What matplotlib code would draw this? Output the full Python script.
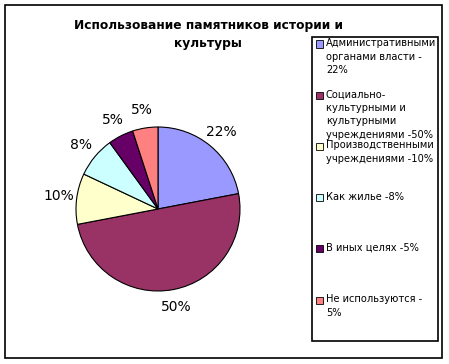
import matplotlib
matplotlib.use("Agg")
import matplotlib.pyplot as plt
from matplotlib.patches import Rectangle
import numpy as np

values = [22, 50, 10, 8, 5, 5]
pct_labels = ["22%", "50%", "10%", "8%", "5%", "5%"]
colors = ["#9999FF", "#993366", "#FFFFCC", "#CCFFFF", "#660066", "#FF8080"]
legend_labels = [
    "Административными\nорганами власти -\n22%",
    "Социально-\nкультурными и\nкультурными\nучреждениями -50%",
    "Производственными\nучреждениями -10%",
    "Как жилье -8%",
    "В иных целях -5%",
    "Не используются -\n5%",
]
title = "Использование памятников истории и\nкультуры"

W, H = 449, 364
fig = plt.figure(figsize=(W / 100, H / 100), dpi=100)

# outer frame
fig.add_artist(Rectangle((5 / W, 1 - 358 / H), 437 / W, 353 / H,
                         transform=fig.transFigure, fill=False, lw=1.2, ec="black"))

fig.text(208 / W, 1 - 19 / H, title, ha="center", va="top", fontsize=8.8,
         fontweight="bold", linespacing=1.45)

# pie
cx, cy, r = 158, 209, 82
ax = fig.add_axes([(cx - r) / W, (H - cy - r) / H, 2 * r / W, 2 * r / H])
wedges, _ = ax.pie(values, colors=colors, startangle=90, counterclock=False,
                   wedgeprops=dict(edgecolor="black", linewidth=0.8))
ax.set_xlim(-1, 1)
ax.set_ylim(-1, 1)
for w, lab in zip(wedges, pct_labels):
    ang = np.deg2rad((w.theta1 + w.theta2) / 2)
    d = 1.22
    ax.text(d * np.cos(ang), d * np.sin(ang), lab, ha="center", va="center", fontsize=10)

# legend box
lx0, ly0, lx1, ly1 = 312, 37, 438, 341
fig.add_artist(Rectangle((lx0 / W, 1 - ly1 / H), (lx1 - lx0) / W, (ly1 - ly0) / H,
                         transform=fig.transFigure, fill=False, lw=1.2, ec="black"))
first_y = 44
step = 51.2
for i, (lab, col) in enumerate(zip(legend_labels, colors)):
    y = first_y + i * step
    fig.add_artist(Rectangle((316 / W, 1 - (y + 3.5) / H), 7 / W, 7 / H,
                             transform=fig.transFigure, fc=col, ec="black", lw=0.6))
    fig.text(326 / W, 1 - (y - 6) / H, lab, ha="left", va="top", fontsize=7.1,
             linespacing=1.45)

fig.savefig("out.png", dpi=100)
